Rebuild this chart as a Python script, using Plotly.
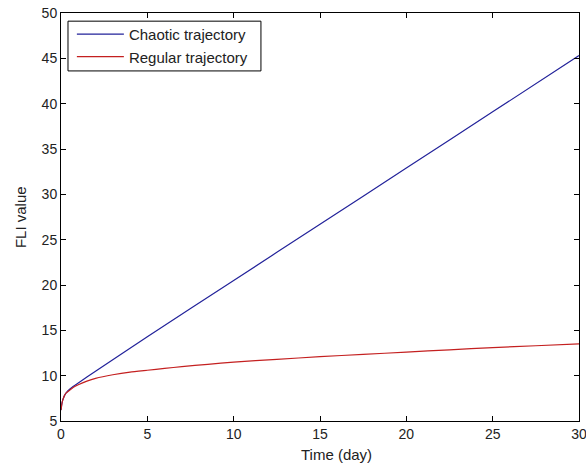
import plotly.graph_objects as go

# Data
time_chaotic = [0, 0.05, 0.1, 0.2, 0.3, 0.5, 0.7, 1, 2, 5, 10, 15, 20, 25, 30]
fli_chaotic = [6.2, 6.9, 7.3, 7.8, 8.1, 8.5, 8.8, 9.2, 10.5, 14.3, 20.5, 26.7, 32.9, 39.1, 45.3]

time_regular = [0, 0.05, 0.1, 0.2, 0.3, 0.5, 0.7, 1, 1.5, 2, 3, 4, 5, 6, 7, 8.5, 10, 12.5, 15, 17.5, 20, 22.5, 25, 27.5, 30]
fli_regular = [6.2, 6.9, 7.3, 7.8, 8.1, 8.4, 8.7, 9.0, 9.4, 9.7, 10.1, 10.4, 10.6, 10.8, 11.0, 11.25, 11.5, 11.8, 12.1, 12.35, 12.6, 12.85, 13.1, 13.3, 13.5]

x_ticks = [0, 5, 10, 15, 20, 25, 30]
y_ticks = [5, 10, 15, 20, 25, 30, 35, 40, 45, 50]

FONT = "Liberation Sans, Arial, sans-serif"

fig = go.Figure()
fig.add_trace(go.Scatter(x=time_chaotic, y=fli_chaotic, mode="lines",
                         name="Chaotic trajectory",
                         line=dict(color="#22229a", width=1.2, shape="spline", smoothing=0.5)))
fig.add_trace(go.Scatter(x=time_regular, y=fli_regular, mode="lines",
                         name="Regular trajectory",
                         line=dict(color="#c42020", width=1.2, shape="spline", smoothing=0.5)))

axis_common = dict(showline=True, linecolor="black", linewidth=1, mirror="ticks",
                   ticks="inside", ticklen=5, tickcolor="black", showgrid=False,
                   zeroline=False, automargin=False, ticklabeloverflow="allow",
                   tickfont=dict(size=14, color="#222"))

fig.update_layout(
    width=586, height=465,
    margin=dict(l=61, r=7, t=13, b=44, autoexpand=False),
    paper_bgcolor="white", plot_bgcolor="white",
    font=dict(family=FONT, size=12, color="#222"),
    xaxis=dict(range=[0, 30], tickvals=x_ticks, **axis_common),
    yaxis=dict(range=[5, 50], tickvals=y_ticks, **axis_common),
    legend=dict(x=0.021, y=0.988, xanchor="left", yanchor="top",
                bgcolor="rgba(0,0,0,0)", borderwidth=0,
                font=dict(size=15), tracegroupgap=0, itemwidth=47),
    showlegend=True,
    shapes=[dict(type="rect", xref="paper", yref="paper",
                 x0=0.0135, x1=0.386, y0=0.858, y1=0.980,
                 line=dict(color="black", width=1), fillcolor="white", layer="below")],
    annotations=[
        dict(text="Time (day)", xref="paper", yref="paper", x=0.531, y=-0.083,
             xanchor="center", yanchor="middle", showarrow=False,
             font=dict(size=15, family=FONT, color="#222")),
        dict(text="FLI value", xref="paper", yref="paper", x=-0.079, y=0.5,
             xanchor="center", yanchor="middle", showarrow=False, textangle=-90,
             font=dict(size=15, family=FONT, color="#222")),
    ],
)

fig.write_html("out.html", config={"displayModeBar": False},
               post_script="document.body.style.margin='0';document.body.style.overflow='hidden';")
